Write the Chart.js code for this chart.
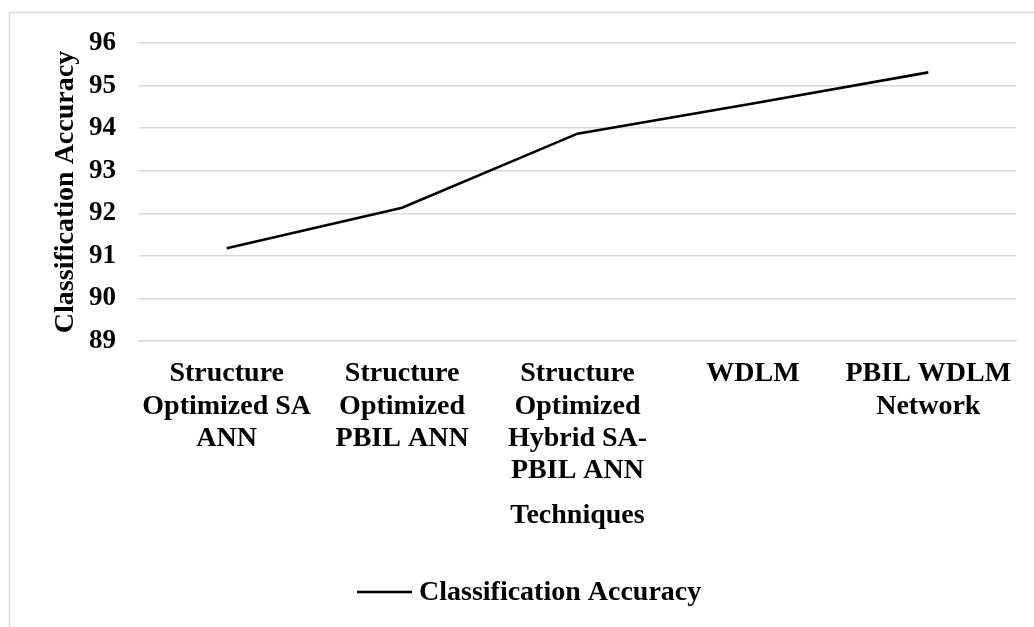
<!DOCTYPE html>
<html>
<head>
<meta charset="utf-8">
<script src="https://cdn.jsdelivr.net/npm/chart.js@4.4.1/dist/chart.umd.min.js"></script>
<style>
  html, body { margin: 0; padding: 0; background: #ffffff; }
  #wrap { position: relative; width: 1034px; height: 627px; }
  canvas { display: block; }
</style>
</head>
<body>
<div id="wrap"><canvas id="chart" width="1034" height="627"></canvas></div>
<script>
// Categories (multi-line labels) and accuracy per technique
const categories = [
  ["Structure", "Optimized SA", "ANN"],
  ["Structure", "Optimized", "PBIL ANN"],
  ["Structure", "Optimized", "Hybrid SA-", "PBIL ANN"],
  ["WDLM"],
  ["PBIL WDLM", "Network"]
];
const accuracy = [91.18, 92.13, 93.87, 94.58, 95.31];
const seriesName = "Classification Accuracy";
const yTitle = "Classification Accuracy";
const xTitle = "Techniques";
const yMin = 89, yMax = 96, yStep = 1;

const SERIF = "'Liberation Serif', 'Times New Roman', serif";
const GRID = "#d9d9d9";

// Outer frame of the chart object (top and left edges)
const framePlugin = {
  id: "frame",
  beforeDraw(chart) {
    const ctx = chart.ctx;
    ctx.save();
    ctx.strokeStyle = GRID;
    ctx.lineWidth = 1.5;
    ctx.beginPath();
    ctx.moveTo(9.5, chart.height);
    ctx.lineTo(9.5, 12.5);
    ctx.lineTo(chart.width, 12.5);
    ctx.stroke();
    ctx.restore();
  }
};

// Legend below the axis title: a line sample followed by the series name
const legendPlugin = {
  id: "lineLegend",
  afterDraw(chart) {
    const ctx = chart.ctx;
    const ds = chart.data.datasets[0];
    const y = 592;
    ctx.save();
    ctx.strokeStyle = ds.borderColor;
    ctx.lineWidth = ds.borderWidth;
    ctx.beginPath();
    ctx.moveTo(357, y);
    ctx.lineTo(412, y);
    ctx.stroke();
    ctx.fillStyle = "#000000";
    ctx.font = "bold 28px " + SERIF;
    ctx.textBaseline = "middle";
    ctx.textAlign = "left";
    ctx.fillText(ds.label, 419, y + 1);
    ctx.restore();
  }
};

new Chart(document.getElementById("chart"), {
  type: "line",
  data: {
    labels: categories,
    datasets: [{
      label: seriesName,
      data: accuracy,
      borderColor: "#000000",
      backgroundColor: "#000000",
      borderWidth: 2.6,
      pointRadius: 0,
      pointHoverRadius: 0,
      tension: 0,
      fill: false
    }]
  },
  options: {
    responsive: false,
    animation: false,
    devicePixelRatio: 1,
    layout: { padding: { top: 43, right: 18, left: 0, bottom: 95 } },
    plugins: {
      legend: { display: false },
      tooltip: { enabled: false }
    },
    scales: {
      x: {
        type: "category",
        offset: true,
        grid: { display: false, drawTicks: false },
        border: { display: true, color: GRID, width: 1.5 },
        ticks: {
          color: "#000000",
          font: { family: SERIF, size: 28, weight: "bold", lineHeight: 1.15 },
          padding: 17,
          maxRotation: 0,
          minRotation: 0,
          autoSkip: false
        },
        title: {
          display: true,
          text: xTitle,
          color: "#000000",
          font: { family: SERIF, size: 28, weight: "bold", lineHeight: 1.15 },
          padding: { top: 0, bottom: 0 }
        },
        afterFit(scale) { scale.height = 191; }
      },
      y: {
        min: yMin,
        max: yMax,
        grid: { color: GRID, lineWidth: 1.5, drawTicks: false },
        border: { display: false },
        ticks: {
          stepSize: yStep,
          color: "#000000",
          font: { family: SERIF, size: 27, weight: "bold" },
          padding: 23
        },
        title: {
          display: true,
          text: yTitle,
          color: "#000000",
          font: { family: SERIF, size: 28, weight: "bold", lineHeight: 1.15 },
          padding: { top: 50, bottom: 0 }
        },
        afterFit(scale) { scale.width = 139; }
      }
    }
  },
  plugins: [framePlugin, legendPlugin]
});
</script>
</body>
</html>
